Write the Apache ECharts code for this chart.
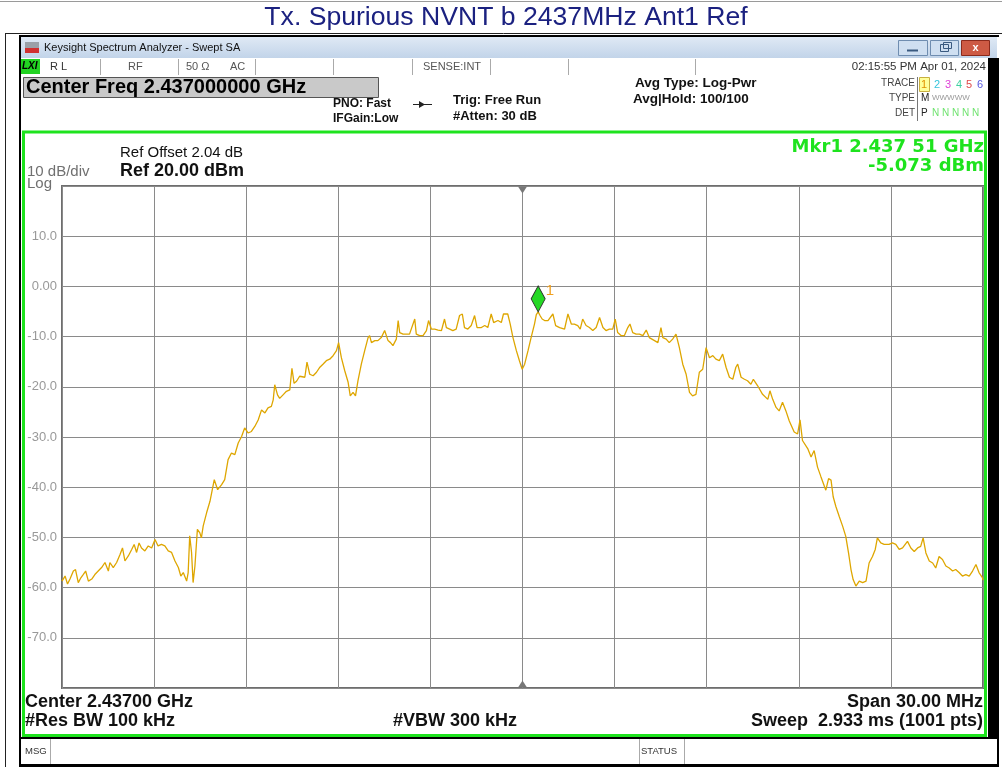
<!DOCTYPE html>
<html>
<head>
<meta charset="utf-8">
<script src="https://cdn.jsdelivr.net/npm/echarts@6/dist/echarts.min.js"></script>
<style>
html, body { margin: 0; padding: 0; background: #fff; }
#chart { width: 1002px; height: 767px; }
</style>
</head>
<body>
<div id="chart"></div>
<script>
// trace (MHz, dBm)
const freqMHz = [
    2422.00, 2422.10, 2422.18, 2422.26, 2422.37, 2422.44, 2422.53, 2422.62, 2422.69, 2422.77,
    2422.86, 2422.97, 2423.07, 2423.18, 2423.29, 2423.40, 2423.51, 2423.56, 2423.67, 2423.78,
    2423.89, 2423.97, 2424.05, 2424.16, 2424.27, 2424.35, 2424.43, 2424.51, 2424.59, 2424.70,
    2424.81, 2424.92, 2425.03, 2425.13, 2425.24, 2425.35, 2425.46, 2425.57, 2425.68, 2425.79,
    2425.87, 2425.95, 2426.06, 2426.11, 2426.16, 2426.22, 2426.27, 2426.33, 2426.41, 2426.49,
    2426.54, 2426.60, 2426.71, 2426.82, 2426.96, 2427.07, 2427.20, 2427.30, 2427.41, 2427.52,
    2427.63, 2427.74, 2427.85, 2427.95, 2428.06, 2428.17, 2428.28, 2428.39, 2428.50, 2428.61,
    2428.71, 2428.82, 2428.88, 2428.93, 2429.02, 2429.09, 2429.20, 2429.31, 2429.42, 2429.49,
    2429.56, 2429.64, 2429.74, 2429.91, 2429.98, 2430.07, 2430.18, 2430.29, 2430.40, 2430.50,
    2430.61, 2430.72, 2430.83, 2430.94, 2431.01, 2431.10, 2431.21, 2431.32, 2431.39, 2431.48,
    2431.56, 2431.64, 2431.75, 2431.86, 2431.97, 2432.02, 2432.08, 2432.19, 2432.29, 2432.40,
    2432.51, 2432.57, 2432.62, 2432.70, 2432.78, 2432.89, 2432.95, 2433.00, 2433.11, 2433.22,
    2433.32, 2433.49, 2433.54, 2433.65, 2433.76, 2433.87, 2433.94, 2434.03, 2434.14, 2434.25,
    2434.36, 2434.46, 2434.52, 2434.63, 2434.73, 2434.84, 2434.95, 2435.04, 2435.11, 2435.22,
    2435.33, 2435.44, 2435.52, 2435.66, 2435.77, 2435.87, 2435.98, 2436.06, 2436.20, 2436.31,
    2436.38, 2436.52, 2436.60, 2436.69, 2436.80, 2436.90, 2436.99, 2437.07, 2437.18, 2437.28,
    2437.39, 2437.45, 2437.51, 2437.58, 2437.64, 2437.72, 2437.83, 2437.88, 2437.99, 2438.08,
    2438.21, 2438.37, 2438.48, 2438.59, 2438.69, 2438.80, 2438.88, 2438.96, 2439.07, 2439.18,
    2439.29, 2439.40, 2439.51, 2439.62, 2439.72, 2439.83, 2439.94, 2440.02, 2440.10, 2440.21,
    2440.32, 2440.43, 2440.50, 2440.59, 2440.70, 2440.81, 2440.92, 2441.03, 2441.13, 2441.30,
    2441.41, 2441.51, 2441.57, 2441.68, 2441.78, 2441.89, 2442.00, 2442.11, 2442.22, 2442.33,
    2442.44, 2442.54, 2442.65, 2442.76, 2442.87, 2442.98, 2443.09, 2443.20, 2443.30, 2443.41,
    2443.52, 2443.63, 2443.74, 2443.85, 2443.95, 2444.01, 2444.12, 2444.23, 2444.33, 2444.44,
    2444.52, 2444.66, 2444.82, 2444.99, 2445.06, 2445.15, 2445.26, 2445.36, 2445.47, 2445.58,
    2445.69, 2445.85, 2445.96, 2446.04, 2446.12, 2446.29, 2446.40, 2446.50, 2446.61, 2446.72,
    2446.88, 2446.97, 2447.05, 2447.12, 2447.21, 2447.32, 2447.43, 2447.53, 2447.62, 2447.70,
    2447.77, 2447.86, 2447.97, 2448.08, 2448.19, 2448.29, 2448.40, 2448.49, 2448.56, 2448.67,
    2448.78, 2448.94, 2449.05, 2449.16, 2449.27, 2449.38, 2449.54, 2449.65, 2449.76, 2449.87,
    2449.97, 2450.05, 2450.14, 2450.25, 2450.36, 2450.46, 2450.57, 2450.68, 2450.79, 2450.90,
    2451.01, 2451.11, 2451.22, 2451.33, 2451.44, 2451.55, 2451.66, 2451.77, 2451.87, 2451.98,
    2452.00
]
const levelDbm = [
    -58.7, -57.7, -59.3, -58.3, -56.7, -56.4, -59.0, -58.0, -57.4, -56.7,
    -58.7, -58.3, -57.4, -56.7, -56.0, -55.0, -56.7, -55.0, -56.0, -55.0,
    -53.4, -52.1, -54.7, -53.7, -52.4, -51.4, -53.0, -51.1, -52.1, -52.7,
    -51.7, -52.1, -50.4, -51.7, -51.4, -51.7, -52.7, -53.0, -54.7, -56.0,
    -57.7, -57.0, -58.7, -57.0, -49.7, -53.0, -59.0, -55.7, -48.4, -49.1,
    -50.1, -47.7, -45.1, -42.8, -38.5, -40.5, -39.5, -38.5, -34.5, -33.2,
    -33.5, -31.2, -29.9, -28.2, -29.2, -28.9, -27.9, -26.6, -24.6, -25.2,
    -24.2, -23.9, -22.6, -19.6, -21.6, -22.3, -21.6, -20.9, -20.6, -16.3,
    -19.3, -18.9, -17.9, -18.1, -15.1, -17.5, -17.8, -17.1, -16.1, -15.5,
    -14.8, -14.5, -13.8, -12.8, -11.2, -14.2, -16.8, -19.1, -21.8, -21.1,
    -21.8, -18.8, -15.5, -12.8, -10.2, -9.8, -11.2, -10.8, -10.8, -10.2,
    -8.8, -8.5, -10.8, -11.2, -11.8, -10.5, -6.8, -9.2, -9.5, -9.5,
    -9.5, -6.5, -9.5, -9.8, -9.8, -8.8, -6.8, -8.5, -8.5, -8.7,
    -8.8, -6.5, -8.2, -8.5, -8.8, -8.5, -5.8, -5.5, -8.2, -8.5,
    -7.8, -5.8, -8.2, -8.2, -7.8, -8.2, -5.5, -7.2, -6.8, -7.2,
    -5.5, -5.5, -7.5, -10.2, -12.8, -14.8, -16.5, -15.5, -12.8, -10.2,
    -7.5, -5.6, -5.07, -5.9, -6.5, -6.8, -6.8, -6.5, -5.5, -7.8,
    -8.2, -8.5, -5.5, -7.5, -7.5, -7.8, -8.5, -6.5, -7.8, -8.2,
    -8.8, -8.2, -6.2, -8.2, -8.8, -8.5, -8.5, -6.5, -9.2, -9.8,
    -9.8, -8.2, -7.5, -9.2, -9.5, -9.5, -9.8, -8.7, -10.2, -10.8,
    -11.2, -8.2, -10.2, -10.5, -11.2, -10.5, -9.5, -12.2, -15.5, -17.5,
    -21.1, -21.8, -21.5, -17.1, -16.5, -12.2, -14.2, -13.8, -14.5, -14.8,
    -13.5, -16.1, -18.1, -18.5, -16.1, -15.5, -18.1, -18.5, -18.8, -19.5,
    -18.5, -19.8, -21.5, -22.5, -20.8, -22.5, -24.1, -24.8, -23.1, -24.8,
    -26.8, -29.0, -29.4, -26.6, -30.7, -32.3, -34.0, -32.7, -36.0, -37.9,
    -40.6, -38.3, -38.6, -41.9, -43.9, -45.9, -47.8, -49.8, -53.1, -56.4,
    -58.4, -59.7, -58.7, -59.0, -58.7, -55.1, -53.8, -52.4, -50.1, -51.1,
    -51.4, -51.4, -51.1, -51.4, -52.4, -52.1, -50.8, -52.1, -52.8, -52.1,
    -51.8, -50.1, -53.1, -54.7, -55.1, -56.1, -53.8, -54.4, -55.7, -56.1,
    -56.7, -56.4, -57.0, -57.7, -57.4, -57.7, -56.7, -55.4, -57.0, -58.0,
    -58.5
]

const centerMHz = 2437.0
const markerFreqMHz = 2437.51
const markerDbm = -5.073

const yTickValues = [10, 0, -10, -20, -30, -40, -50, -60, -70]
const yTickLabels = ["10.0", "0.00", "-10.0", "-20.0", "-30.0", "-40.0", "-50.0", "-60.0", "-70.0"]

const ARIAL = '"Liberation Sans", Arial, sans-serif'
const GREEN = "#1ee31e"

// little helpers for the analyzer window chrome
function txt(x, y, text, font, color, align) {
    return {
        type: "text", x: x, y: y, silent: true, z: 50,
        style: {
            text: text, font: font, fill: color || "#000",
            align: align || "left", verticalAlign: "middle",
            textAlign: align || "left", textVerticalAlign: "middle",
        },
    }
}
function box(x, y, w, h, fill, stroke, lw) {
    return {
        type: "rect", silent: true, z: 40,
        shape: { x: x, y: y, width: w, height: h },
        style: { fill: fill || "none", stroke: stroke || "none", lineWidth: lw || 0 },
    }
}
function seg(x1, y1, x2, y2, color, lw) {
    return {
        type: "line", silent: true, z: 45,
        shape: { x1: x1, y1: y1, x2: x2, y2: y2 },
        style: { stroke: color, lineWidth: lw || 1 },
    }
}

const chrome = [
    // report table lines + title
    seg(0, 1.5, 1002, 1.5, "#9a9a9a"),
    seg(5, 33.5, 1002, 33.5, "#222"),
    seg(5.5, 33, 5.5, 767, "#222"),
    txt(506, 18, "Tx. Spurious NVNT b 2437MHz Ant1 Ref", "26.6px " + ARIAL, "#1b2180", "center"),

    // window frame
    box(19, 35, 980, 2, "#000"),
    box(19, 35, 2, 731, "#000"),
    box(988, 58, 11, 681, "#000"),
    box(19, 737, 980, 2, "#000"),
    box(19, 764, 980, 3, "#000"),
    box(997, 739, 2, 26, "#000"),

    // title bar
    {
        type: "rect", silent: true, z: 40,
        shape: { x: 21, y: 37, width: 976, height: 21 },
        style: {
            fill: {
                type: "linear", x: 0, y: 0, x2: 0, y2: 1,
                colorStops: [{ offset: 0, color: "#dfe9f5" }, { offset: 1, color: "#c2d4e9" }],
            },
        },
    },
    box(25, 42, 14, 6, "#9aa0a8"),
    box(25, 48, 14, 5, "#d03030"),
    txt(44, 48, "Keysight Spectrum Analyzer - Swept SA", "11px " + ARIAL, "#111"),
    box(898.5, 40.5, 29, 15, "#cfdff1", "#6f8db0", 1),
    seg(907, 50.5, 918, 50.5, "#3a5a80", 2),
    box(930.5, 40.5, 28, 15, "#cfdff1", "#6f8db0", 1),
    box(940.5, 44.5, 8, 7, "none", "#3a5a80", 1),
    box(943.5, 42.5, 8, 6, "none", "#3a5a80", 1),
    box(961.5, 40.5, 28, 15, "#cd5a44", "#8a2a1c", 1),
    txt(975.5, 48, "x", "bold 11px " + ARIAL, "#fff", "center"),

    // status row
    box(21, 59, 19, 15, "#22d322"),
    txt(22, 66.5, "LXI", "italic bold 10px " + ARIAL, "#000"),
    txt(50, 67, "R L", "11px " + ARIAL, "#333"),
    txt(128, 67, "RF", "11px " + ARIAL, "#555"),
    txt(186, 67, "50 \u03A9", "11px " + ARIAL, "#555"),
    txt(230, 67, "AC", "11px " + ARIAL, "#555"),
    txt(423, 67, "SENSE:INT", "11px " + ARIAL, "#555"),
    txt(986, 67, "02:15:55 PM Apr 01, 2024", "11.5px " + ARIAL, "#333", "right"),
    seg(100.5, 59, 100.5, 75, "#aaa"),
    seg(178.5, 59, 178.5, 75, "#aaa"),
    seg(255.5, 59, 255.5, 75, "#aaa"),
    seg(333.5, 59, 333.5, 75, "#aaa"),
    seg(412.5, 59, 412.5, 75, "#aaa"),
    seg(490.5, 59, 490.5, 75, "#aaa"),
    seg(568.5, 59, 568.5, 75, "#aaa"),
    seg(695.5, 59, 695.5, 75, "#aaa"),

    // settings block
    box(23.5, 77.5, 355, 20, "#c9c9c9", "#555", 1),
    txt(26, 87.5, "Center Freq 2.437000000 GHz", "bold 20px " + ARIAL, "#000"),
    txt(333, 104, "PNO: Fast", "bold 12px " + ARIAL, "#111"),
    txt(333, 119, "IFGain:Low", "bold 12px " + ARIAL, "#111"),
    seg(413, 104.5, 432, 104.5, "#222"),
    { type: "polygon", silent: true, z: 45, shape: { points: [[419, 101], [425, 104.5], [419, 108]] }, style: { fill: "#222" } },
    txt(453, 100, "Trig: Free Run", "bold 13px " + ARIAL, "#111"),
    txt(453, 116, "#Atten: 30 dB", "bold 13px " + ARIAL, "#111"),
    txt(635, 83, "Avg Type: Log-Pwr", "bold 13.5px " + ARIAL, "#111"),
    txt(633, 99, "Avg|Hold: 100/100", "bold 13.5px " + ARIAL, "#111"),
    txt(915, 83, "TRACE", "10px " + ARIAL, "#444", "right"),
    txt(915, 98, "TYPE", "10px " + ARIAL, "#444", "right"),
    txt(915, 113, "DET", "10px " + ARIAL, "#444", "right"),
    seg(917.5, 77, 917.5, 121, "#777"),
    box(919.5, 77.5, 10, 14, "#ffff9a", "#c8b040", 1),
    txt(921, 85, "1", "11px " + ARIAL, "#e09000"),
    txt(934, 85, "2", "11px " + ARIAL, "#35c4dc"),
    txt(945, 85, "3", "11px " + ARIAL, "#e040d8"),
    txt(956, 85, "4", "11px " + ARIAL, "#40d0a0"),
    txt(966, 85, "5", "11px " + ARIAL, "#e04848"),
    txt(977, 85, "6", "11px " + ARIAL, "#5a5ae0"),
    txt(921, 98, "M", "10px " + ARIAL, "#222"),
    txt(932, 98, "WWWWW", "8px " + ARIAL, "#999"),
    txt(921, 113, "P", "10px " + ARIAL, "#222"),
    txt(932, 113, "N N N N N", "10px " + ARIAL, "#6fe36f"),

    // green display frame
    box(23.5, 132, 962, 603.5, "none", GREEN, 3),
    txt(120, 153, "Ref Offset 2.04 dB", "15px " + ARIAL, "#111"),
    txt(120, 171, "Ref 20.00 dBm", "bold 18px " + ARIAL, "#111"),
    txt(27, 172, "10 dB/div", "15px " + ARIAL, "#707070"),
    txt(27, 184, "Log", "15px " + ARIAL, "#707070"),
    txt(984, 147, "Mkr1 2.437 51 GHz", 'bold 18px "DejaVu Sans", sans-serif', GREEN, "right"),
    txt(984, 166, "-5.073 dBm", 'bold 18px "DejaVu Sans", sans-serif', GREEN, "right"),
    txt(25, 702, "Center 2.43700 GHz", "bold 18px " + ARIAL, "#111"),
    txt(25, 721, "#Res BW 100 kHz", "bold 18px " + ARIAL, "#111"),
    txt(393, 721, "#VBW 300 kHz", "bold 18px " + ARIAL, "#111"),
    txt(983, 702, "Span 30.00 MHz", "bold 18px " + ARIAL, "#111", "right"),
    txt(983, 721, "Sweep  2.933 ms (1001 pts)", "bold 18px " + ARIAL, "#111", "right"),

    // message bar
    txt(25, 751, "MSG", "9.5px " + ARIAL, "#333"),
    seg(50.5, 739, 50.5, 764, "#aaa"),
    txt(641, 751, "STATUS", "9.5px " + ARIAL, "#333"),
    seg(639.5, 739, 639.5, 764, "#aaa"),
    seg(684.5, 739, 684.5, 764, "#aaa"),
]

// offsets from centre so the 3 MHz divisions start on a multiple
const tracePoints = freqMHz.map((f, i) => [+(f - centerMHz).toFixed(2), levelDbm[i]])

const chart = echarts.init(document.getElementById("chart"), null, { renderer: "canvas" })

const option = {
    animation: false,
    backgroundColor: "#fff",
    grid: {
        left: 62,
        top: 186,
        width: 921,
        height: 502,
        show: true,
        borderColor: "#6e6e6e",
        borderWidth: 2,
    },
    xAxis: {
        type: "value",
        min: -15,
        max: 15,
        interval: 3,
        axisLabel: { show: false },
        axisTick: { show: false },
        axisLine: { show: false },
        splitLine: { show: true, lineStyle: { color: "#8a8a8a", width: 1 } },
    },
    yAxis: {
        type: "value",
        min: -80,
        max: 20,
        interval: 10,
        axisTick: { show: false },
        axisLine: { show: false },
        axisLabel: {
            margin: 5,
            color: "#999",
            fontSize: 13,
            fontFamily: ARIAL,
            formatter: v => {
                const i = yTickValues.indexOf(v)
                return i < 0 ? "" : yTickLabels[i]
            },
        },
        splitLine: { show: true, lineStyle: { color: "#8a8a8a", width: 1 } },
    },
    series: [
        {
            type: "line",
            data: tracePoints,
            showSymbol: false,
            symbol: "none",
            silent: true,
            lineStyle: { color: "#dea600", width: 1.3 },
            markPoint: {
                silent: true,
                animation: false,
                data: [
                    {
                        coord: [+(markerFreqMHz - centerMHz).toFixed(2), markerDbm],
                        symbol: "diamond",
                        symbolSize: [14, 26],
                        symbolOffset: [0, -13],
                        itemStyle: { color: "#25d825", borderColor: "#2a2a2a", borderWidth: 1 },
                        label: {
                            show: true,
                            formatter: "1",
                            position: [15, -2],
                            color: "#f0a020",
                            fontSize: 15,
                            fontFamily: ARIAL,
                        },
                    },
                    {
                        coord: [0, 20],
                        symbol: "triangle",
                        symbolRotate: 180,
                        symbolSize: [9, 7],
                        symbolOffset: [0, 4],
                        itemStyle: { color: "#777" },
                        label: { show: false },
                    },
                    {
                        coord: [0, -80],
                        symbol: "triangle",
                        symbolSize: [9, 7],
                        symbolOffset: [0, -4],
                        itemStyle: { color: "#777" },
                        label: { show: false },
                    },
                ],
            },
        },
    ],
    graphic: { elements: chrome },
}

chart.setOption(option, true)
</script>
</body>
</html>
